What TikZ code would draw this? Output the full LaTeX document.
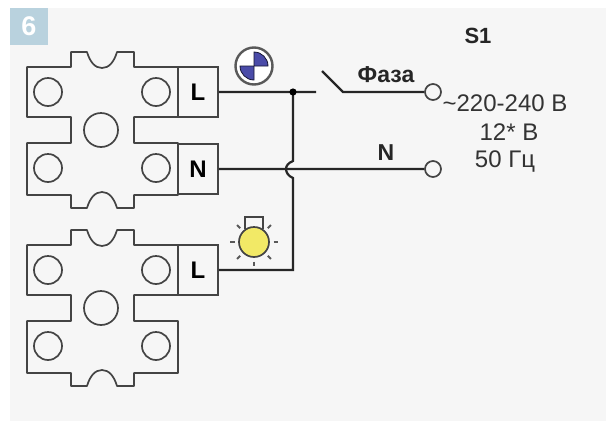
\documentclass[tikz,border=0pt]{standalone}
\usepackage{fontspec}
\setmainfont{Liberation Sans}
\definecolor{panelgray}{HTML}{F6F6F6}
\definecolor{badgeblue}{HTML}{B9D2DE}
\definecolor{outlinegray}{HTML}{444444}
\definecolor{lampyellow}{HTML}{F2E966}
\definecolor{iconblue}{HTML}{4A4BA8}
\tikzset{
    labelplain/.style={text=black!80, font=\fontsize{24}{26}\selectfont},
    labelbold/.style={text=black!85, font=\fontsize{23}{26}\selectfont\bfseries},
    terminal/.style={draw=outlinegray, line width=1.7pt, minimum width=40pt, minimum height=50.5pt, inner sep=0pt, text=black, font=\fontsize{24}{26}\selectfont\bfseries},
    contact/.style={draw=outlinegray, circle, line width=1.7pt, fill=panelgray, minimum size=16pt, inner sep=0pt},
    wire/.style={draw=black!85, line width=2.2pt},
    socket/.pic={
        \draw[outlinegray, line width=1.7pt, line join=round] (27,67) -- (71,67) -- (71,52) -- (87,52)
            .. controls (90,62) and (95,68) .. (102,68) .. controls (109,68) and (114,62) .. (117,52)
            -- (134,52) -- (134,67) -- (178,67) -- (178,117) -- (134,117) -- (134,143) -- (178,143)
            -- (178,195) -- (134,195) -- (134,208) -- (117,208)
            .. controls (114,198) and (109,192) .. (102,192) .. controls (95,192) and (90,198) .. (87,208)
            -- (71,208) -- (71,195) -- (27,195) -- (27,143) -- (71,143) -- (71,117) -- (27,117) -- cycle;
        \foreach \cx/\cy/\cr in {48/92/14, 156/92/14, 101/130/17, 48/168/14, 156/168/14}
            \draw[outlinegray, line width=1.7pt] (\cx,\cy) circle (\cr);
    }
}
\begin{document}
\begin{tikzpicture}[x=1pt, y=-1pt]
    \useasboundingbox (0,0) rectangle (606,421);
    %background
    \fill[panelgray] (10,8) rectangle (606,421);
    \node[fill=badgeblue, minimum width=38pt, minimum height=37pt, inner sep=0pt, text=white, font=\fontsize{27}{28}\selectfont\bfseries] at (29,26.5) (badge) {6};
    %sockets
    \pic at (0,0) {socket};
    \pic at (0,178) {socket};
    %nodes
    \node[terminal] at (198,92) (termLtop) {L};
    \node[terminal] at (198,169) (termN) {N};
    \node[terminal] at (198,270) (termLbot) {L};
    \node[contact] at (433,92) (contactPhase) {};
    \node[contact] at (433,169) (contactN) {};
    \coordinate (junction) at (293,92);
    \coordinate (stubEnd) at (316,92);
    \coordinate (switchPivot) at (343,92);
    \coordinate (switchTip) at (322,71);
    \coordinate (hopTop) at (293,161);
    \coordinate (hopBottom) at (293,178);
    \coordinate (hopLeft) at (286,169);
    \coordinate (corner) at (293,270);
    %wires
    \path[wire]
        (termLtop.east) -- (stubEnd)
        (junction) -- (hopTop) .. controls (288,163) and (286,166) .. (hopLeft) .. controls (286,172) and (288,176) .. (hopBottom) -- (corner) -- (termLbot.east)
        (termN.east) -- (contactN.west)
        (switchTip) -- (switchPivot) -- (contactPhase.west);
    \fill[black] (junction) circle (3.6);
    %lamp
    \draw[outlinegray, line width=1.7pt] (245,229) -- (245,217) -- (263,217) -- (263,229);
    \foreach \a in {0,45,90,135,180,225,-45}
        \draw[black!65, line width=2pt] (254,242) ++(\a:19.5) -- ++(\a:4.5);
    \node[draw=outlinegray, circle, line width=1.7pt, fill=lampyellow, minimum size=30pt, inner sep=0pt] at (254,242) (lamp) {};
    %icon
    \draw[black!65, line width=2.4pt, fill=white] (254,66) circle (18.5);
    \filldraw[iconblue, draw=black!70!iconblue, line width=0.8pt] (254,66) -- (254,52) arc[start angle=-90, end angle=0, radius=14] -- cycle;
    \filldraw[iconblue, draw=black!70!iconblue, line width=0.8pt] (254,66) -- (254,80) arc[start angle=90, end angle=180, radius=14] -- cycle;
    %texts
    \node[labelbold, font=\fontsize{22}{24}\selectfont\bfseries] at (478,36) (titleS) {S1};
    \node[labelbold] at (386,75) (labelPhase) {Фаза};
    \node[labelbold] at (386,153) (labelN) {N};
    \node[labelplain] at (505,103) (labelVoltA) {\textasciitilde220-240 В};
    \node[labelplain] at (509,132) (labelVoltB) {12* В};
    \node[labelplain] at (505,162) (labelFreq) {50 Гц};
\end{tikzpicture}
\end{document}
